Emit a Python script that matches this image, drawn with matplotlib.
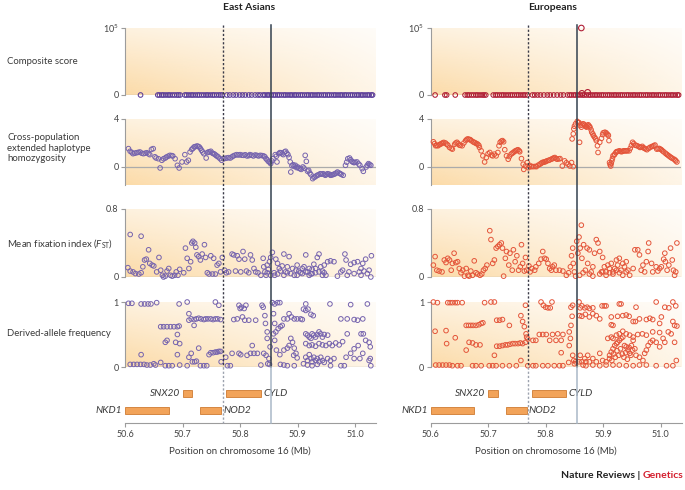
import matplotlib
matplotlib.use("Agg")
import matplotlib.pyplot as plt
import numpy as np
from matplotlib.lines import Line2D
from matplotlib.transforms import blended_transform_factory

plt.rcParams['font.family'] = ['Lato', 'DejaVu Sans']
plt.rcParams['mathtext.fontset'] = 'custom'
plt.rcParams['mathtext.rm'] = 'Lato'
plt.rcParams['mathtext.it'] = 'Lato:italic'

# ---------------- data ----------------
populations = ['East Asians', 'Europeans']
row_labels = ['Composite score',
              'Cross-population\nextended haplotype\nhomozygosity',
              r'Mean fixation index ($\mathit{F}_{\mathrm{ST}}$)',
              'Derived-allele frequency']
y_ticks = [[0, 100000], [0, 4], [0, 0.8], [0, 1]]
y_tick_labels = [['0', r'$10^5$'], ['0', '4'], ['0', '0.8'], ['0', '1']]
x_ticks = [50.6, 50.7, 50.8, 50.9, 51.0]
x_tick_labels = ['50.6', '50.7', '50.8', '50.9', '51.0']
x_label = 'Position on chromosome 16 (Mb)'
pos_dotted = 50.770
pos_solid = 50.854

genes = ['NKD1', 'SNX20', 'NOD2', 'CYLD']
gene_start = [50.600, 50.700, 50.731, 50.776]
gene_end = [50.676, 50.717, 50.767, 50.836]
gene_row = [0, 1, 0, 1]
gene_label_side = ['left', 'left', 'right', 'right']

# composite score (mostly zero)
ea_comp_x = [50.627, 50.657, 50.660, 50.664, 50.667, 50.671, 50.675, 50.678, 50.682, 50.686, 50.690,
             50.693, 50.696, 50.704, 50.707, 50.711, 50.715, 50.718, 50.722, 50.726, 50.729, 50.733,
             50.737, 50.741, 50.744, 50.748, 50.752, 50.755, 50.759, 50.763, 50.766, 50.769, 50.777,
             50.782, 50.788, 50.793, 50.799, 50.804, 50.809, 50.815, 50.820, 50.826, 50.831, 50.835,
             50.840, 50.843, 50.847, 50.850, 50.854, 50.858, 50.861, 50.865, 50.868, 50.872, 50.876,
             50.879, 50.883, 50.887, 50.890, 50.894, 50.897, 50.901, 50.905, 50.908, 50.912, 50.916,
             50.919, 50.923, 50.926, 50.930, 50.934, 50.937, 50.941, 50.945, 50.948, 50.952, 50.955,
             50.959, 50.963, 50.966, 50.970, 50.974, 50.977, 50.981, 50.984, 50.988, 50.992, 50.995,
             50.999, 51.003, 51.006, 51.010, 51.013, 51.017, 51.021, 51.024, 51.028, 51.030]
eu_comp_x = [50.608, 50.625, 50.628, 50.643, 50.660, 50.664, 50.667, 50.671, 50.675, 50.679, 50.682,
             50.686, 50.690, 50.693, 50.696, 50.709, 50.713, 50.716, 50.720, 50.724, 50.727, 50.731,
             50.735, 50.739, 50.742, 50.746, 50.750, 50.753, 50.757, 50.761, 50.764, 50.768, 50.777,
             50.781, 50.786, 50.791, 50.797, 50.803, 50.808, 50.814, 50.820, 50.826, 50.831, 50.838,
             50.842, 50.845, 50.849, 50.852, 50.856, 50.860, 50.864, 50.867, 50.871, 50.875, 50.878,
             50.882, 50.886, 50.889, 50.893, 50.897, 50.900, 50.904, 50.908, 50.911, 50.915, 50.919,
             50.922, 50.926, 50.930, 50.933, 50.937, 50.941, 50.944, 50.948, 50.952, 50.955, 50.959,
             50.963, 50.966, 50.970, 50.974, 50.977, 50.981, 50.985, 50.988, 50.992, 50.996, 50.999,
             51.003, 51.007, 51.010, 51.014, 51.018, 51.021, 51.025, 51.029, 51.031]
eu_comp_peaks = [(50.862, 100000), (50.863, 2500), (50.873, 4000)]

# XP-EHH
ea_xpehh = [(50.606, 1.53), (50.609, 1.31), (50.614, 1.11), (50.620, 1.19), (50.626, 1.25), (50.632, 1.11),
            (50.638, 1.19), (50.643, 1.03), (50.646, 1.47), (50.649, 1.53), (50.654, 0.75), (50.658, 0.69),
            (50.661, -0.08), (50.664, 0.56), (50.667, 0.69), (50.672, 0.83), (50.678, 0.97), (50.683, 0.92),
            (50.687, 0.69), (50.691, 0.14), (50.694, -0.08), (50.699, 0.42), (50.704, 1.03), (50.707, 0.42),
            (50.710, 0.56), (50.713, 1.25), (50.716, 1.47), (50.720, 1.67), (50.725, 1.75), (50.729, 1.67),
            (50.733, 1.39), (50.737, 1.11), (50.741, 0.75), (50.745, 1.25), (50.749, 1.31), (50.754, 1.11),
            (50.758, 0.97), (50.762, 0.83), (50.768, 0.56), (50.771, 0.69), (50.777, 0.75), (50.783, 0.75),
            (50.788, 0.92), (50.794, 1.03), (50.800, 1.03), (50.806, 0.97), (50.812, 0.92), (50.817, 1.03),
            (50.823, 0.92), (50.829, 0.97), (50.835, 0.97), (50.841, 0.92), (50.845, 0.69), (50.849, 0.47),
            (50.853, 0.28), (50.857, 0.69), (50.861, 1.03), (50.864, 0.42), (50.867, 1.11), (50.871, 1.19),
            (50.875, 1.03), (50.879, 1.31), (50.883, 1.03), (50.887, 0.42), (50.888, -0.42), (50.892, 0.19),
            (50.896, 0.14), (50.900, 0.0), (50.904, -0.14), (50.909, 0.0), (50.913, 0.97), (50.915, 0.47),
            (50.919, -0.28), (50.923, -0.64), (50.926, -0.97), (50.930, -0.83), (50.934, -0.69), (50.939, -0.56),
            (50.944, -0.56), (50.948, -0.69), (50.952, -0.56), (50.957, -0.69), (50.961, -0.64), (50.965, -0.56),
            (50.969, -0.42), (50.974, -0.56), (50.979, -0.69), (50.983, 0.14), (50.987, 0.69), (50.990, 0.75),
            (50.994, 0.47), (50.998, 0.36), (51.003, 0.42), (51.008, 0.14), (51.012, -0.14), (51.014, -0.36),
            (51.019, 0.0), (51.023, 0.28), (51.027, 0.14),
            (50.797, 1.00), (50.803, 0.98), (50.809, 1.02), (50.815, 0.95), (50.820, 0.98), (50.826, 1.00),
            (50.832, 0.92), (50.838, 0.95), (50.843, 0.85), (50.847, 0.60), (50.851, 0.40), (50.855, 0.50),
            (50.863, 0.90), (50.869, 1.20), (50.873, 1.10), (50.877, 1.25), (50.881, 1.15), (50.885, 0.80),
            (50.890, 0.10), (50.894, 0.05), (50.898, -0.05), (50.902, -0.10), (50.906, -0.20), (50.911, -0.10),
            (50.917, -0.35), (50.921, -0.50), (50.928, -0.85), (50.932, -0.75), (50.936, -0.65), (50.941, -0.60),
            (50.946, -0.62), (50.950, -0.62), (50.955, -0.60), (50.959, -0.66), (50.963, -0.60), (50.967, -0.50),
            (50.972, -0.50), (50.976, -0.62), (50.985, 0.40), (50.992, 0.60), (50.996, 0.40), (51.000, 0.40),
            (51.006, 0.25), (51.021, 0.15), (51.025, 0.20), (50.612, 1.20), (50.617, 1.15), (50.623, 1.22),
            (50.629, 1.15), (50.635, 1.15), (50.641, 1.10), (50.652, 0.85), (50.670, 0.75), (50.675, 0.90),
            (50.681, 0.95), (50.718, 1.55), (50.722, 1.70), (50.727, 1.72), (50.731, 1.55), (50.735, 1.25),
            (50.743, 1.20), (50.747, 1.25), (50.752, 1.15), (50.756, 1.05), (50.760, 0.90), (50.765, 0.70),
            (50.774, 0.72), (50.780, 0.78), (50.786, 0.85), (50.791, 0.98)]
eu_xpehh = [(50.605, 2.10), (50.609, 1.77), (50.613, 1.77), (50.617, 1.90), (50.621, 2.00), (50.626, 2.00),
            (50.630, 1.83), (50.633, 1.63), (50.638, 1.49), (50.642, 1.90), (50.646, 2.06), (50.650, 1.83),
            (50.655, 1.77), (50.661, 2.20), (50.665, 2.34), (50.669, 2.28), (50.674, 2.10), (50.678, 2.00),
            (50.682, 1.90), (50.685, 1.63), (50.688, 1.35), (50.691, 0.93), (50.694, 0.42), (50.697, 0.79),
            (50.703, 1.21), (50.706, 0.99), (50.708, 0.93), (50.711, 1.07), (50.714, 0.93), (50.717, 1.21),
            (50.719, 1.77), (50.721, 2.06), (50.725, 2.20), (50.727, 2.10), (50.729, 1.44), (50.732, 0.93),
            (50.735, 0.65), (50.737, 0.87), (50.740, 1.07), (50.744, 1.21), (50.748, 1.35), (50.752, 1.44),
            (50.755, 1.27), (50.758, 0.70), (50.761, 0.23), (50.762, -0.20), (50.765, 0.08), (50.768, 0.37),
            (50.770, -0.06), (50.772, 0.14), (50.775, 0.03), (50.779, 0.03), (50.784, 0.03), (50.790, 0.23),
            (50.794, 0.37), (50.798, 0.42), (50.802, 0.51), (50.807, 0.59), (50.812, 0.70), (50.816, 0.79),
            (50.820, 0.65), (50.825, 0.70), (50.829, 0.08), (50.833, 0.51), (50.839, 0.23), (50.842, 0.08),
            (50.845, 0.37), (50.848, 0.03), (50.846, 2.34), (50.848, 2.76), (50.849, 3.18), (50.852, 3.60),
            (50.855, 3.80), (50.858, 3.69), (50.860, 3.46), (50.859, 2.06), (50.862, 3.32), (50.865, 3.60),
            (50.868, 3.46), (50.871, 3.32), (50.874, 3.52), (50.877, 3.32), (50.880, 2.90), (50.883, 2.62),
            (50.885, 2.48), (50.888, 2.20), (50.890, 1.77), (50.891, 1.21), (50.894, 2.06), (50.897, 2.39),
            (50.900, 2.85), (50.903, 2.90), (50.906, 2.76), (50.909, 2.62), (50.910, 2.20), (50.911, 0.37),
            (50.913, 0.08), (50.915, 0.51), (50.917, 0.93), (50.920, 1.07), (50.923, 1.27), (50.928, 1.35),
            (50.932, 1.27), (50.936, 1.35), (50.940, 1.35), (50.945, 1.35), (50.947, 1.55), (50.951, 2.06),
            (50.955, 1.83), (50.959, 1.77), (50.964, 1.63), (50.968, 1.72), (50.972, 1.55), (50.976, 1.44),
            (50.981, 1.63), (50.986, 1.72), (50.990, 1.83), (50.993, 1.49), (50.997, 1.55), (51.001, 1.44),
            (51.005, 1.27), (51.010, 1.07), (51.014, 0.93), (51.018, 0.79), (51.023, 0.65), (51.026, 0.51),
            (51.028, 0.42),
            (50.607, 1.95), (50.611, 1.80), (50.615, 1.85), (50.619, 1.95), (50.623, 2.05), (50.628, 1.90),
            (50.636, 1.55), (50.644, 2.00), (50.648, 1.95), (50.652, 1.80), (50.658, 2.00), (50.663, 2.30),
            (50.667, 2.30), (50.671, 2.20), (50.676, 2.05), (50.680, 1.95), (50.684, 1.80), (50.700, 1.10),
            (50.723, 2.15), (50.742, 1.15), (50.746, 1.30), (50.750, 1.40), (50.754, 1.35), (50.776, 0.05),
            (50.782, 0.05), (50.787, 0.15), (50.792, 0.30), (50.796, 0.40), (50.800, 0.45), (50.805, 0.55),
            (50.810, 0.65), (50.814, 0.75), (50.818, 0.70), (50.823, 0.68), (50.836, 0.35), (50.850, 3.40),
            (50.857, 3.70), (50.863, 3.50), (50.867, 3.55), (50.870, 3.40), (50.873, 3.45), (50.876, 3.40),
            (50.879, 3.10), (50.882, 2.75), (50.887, 2.35), (50.899, 2.70), (50.905, 2.85), (50.908, 2.70),
            (50.912, 0.20), (50.914, 0.30), (50.916, 0.70), (50.919, 1.00), (50.922, 1.20), (50.925, 1.30),
            (50.930, 1.30), (50.934, 1.32), (50.938, 1.35), (50.942, 1.35), (50.949, 1.80), (50.953, 1.95),
            (50.957, 1.80), (50.962, 1.70), (50.966, 1.65), (50.970, 1.60), (50.974, 1.50), (50.979, 1.55),
            (50.984, 1.70), (50.988, 1.78), (50.995, 1.52), (50.999, 1.50), (51.003, 1.35), (51.008, 1.15),
            (51.012, 1.00), (51.016, 0.85), (51.020, 0.72), (51.025, 0.58)]

# mean FST
ea_fst = [(50.609, 0.50), (50.628, 0.48), (50.605, 0.11), (50.609, 0.07), (50.614, 0.06), (50.618, 0.04),
          (50.624, 0.035), (50.628, 0.05), (50.631, 0.12), (50.634, 0.20), (50.637, 0.21), (50.641, 0.32),
          (50.643, 0.16), (50.647, 0.14), (50.650, 0.13), (50.655, 0.06), (50.659, 0.23), (50.662, 0.08),
          (50.665, 0.02), (50.667, 0.00), (50.670, 0.01), (50.673, 0.07), (50.676, 0.10), (50.679, 0.02),
          (50.682, 0.01), (50.686, 0.02), (50.689, 0.06), (50.692, 0.02), (50.695, 0.09), (50.702, 0.05),
          (50.705, 0.34), (50.708, 0.22), (50.711, 0.10), (50.714, 0.18), (50.716, 0.40), (50.718, 0.42),
          (50.721, 0.40), (50.723, 0.35), (50.725, 0.26), (50.728, 0.24), (50.731, 0.20), (50.734, 0.27),
          (50.738, 0.38), (50.740, 0.23), (50.743, 0.05), (50.746, 0.035), (50.749, 0.25), (50.752, 0.035),
          (50.754, 0.22), (50.757, 0.035), (50.760, 0.14), (50.763, 0.16), (50.766, 0.06), (50.769, 0.23),
          (50.773, 0.08), (50.776, 0.05), (50.780, 0.06), (50.786, 0.27), (50.789, 0.26), (50.792, 0.07),
          (50.795, 0.25), (50.798, 0.21), (50.801, 0.06), (50.805, 0.30), (50.808, 0.21), (50.811, 0.07),
          (50.815, 0.05), (50.818, 0.26), (50.821, 0.20), (50.824, 0.10), (50.827, 0.06), (50.831, 0.05),
          (50.836, 0.02), (50.840, 0.22), (50.841, 0.12), (50.843, 0.06), (50.845, 0.02), (50.847, 0.14),
          (50.849, 0.09), (50.851, 0.18), (50.853, 0.23), (50.856, 0.29), (50.859, 0.05), (50.860, 0.02),
          (50.862, 0.21), (50.865, 0.16), (50.868, 0.10), (50.870, 0.07), (50.873, 0.13), (50.876, 0.27),
          (50.879, 0.06), (50.882, 0.12), (50.885, 0.24), (50.888, 0.04), (50.891, 0.10), (50.894, 0.02),
          (50.897, 0.08), (50.899, 0.14), (50.902, 0.07), (50.905, 0.05), (50.908, 0.10), (50.911, 0.12),
          (50.914, 0.26), (50.917, 0.06), (50.920, 0.10), (50.923, 0.035), (50.925, 0.09), (50.928, 0.15),
          (50.931, 0.05), (50.934, 0.23), (50.937, 0.27), (50.940, 0.12), (50.943, 0.07), (50.946, 0.14),
          (50.949, 0.02), (50.952, 0.18), (50.957, 0.19), (50.963, 0.18), (50.969, 0.01), (50.975, 0.06),
          (50.978, 0.08), (50.982, 0.27), (50.984, 0.20), (50.986, 0.02), (50.989, 0.06), (50.992, 0.15),
          (50.998, 0.17), (51.004, 0.18), (51.007, 0.06), (51.010, 0.10), (51.013, 0.16), (51.015, 0.07),
          (51.018, 0.21), (51.021, 0.04), (51.024, 0.08), (51.027, 0.00), (51.028, 0.25), (50.899, 0.02),
          (50.908, 0.04), (50.914, 0.06), (50.920, 0.02), (50.925, 0.04), (50.931, 0.10), (50.937, 0.06),
          (50.943, 0.02), (50.946, 0.05), (50.847, 0.05), (50.853, 0.02), (50.865, 0.035), (50.876, 0.02),
          (50.882, 0.05), (50.998, 0.04), (51.010, 0.02)]
eu_fst = [(50.605, 0.14), (50.608, 0.24), (50.611, 0.08), (50.615, 0.07), (50.620, 0.06), (50.624, 0.20),
          (50.627, 0.17), (50.630, 0.22), (50.633, 0.20), (50.636, 0.08), (50.638, 0.16), (50.641, 0.28),
          (50.644, 0.17), (50.647, 0.18), (50.650, 0.10), (50.653, 0.05), (50.656, 0.08), (50.659, 0.01),
          (50.662, 0.10), (50.665, 0.02), (50.667, 0.01), (50.670, 0.07), (50.673, 0.02), (50.676, 0.19),
          (50.679, 0.05), (50.682, 0.035), (50.686, 0.02), (50.689, 0.035), (50.692, 0.08), (50.695, 0.10),
          (50.698, 0.14), (50.703, 0.545), (50.705, 0.44), (50.708, 0.16), (50.711, 0.20), (50.714, 0.34),
          (50.717, 0.36), (50.720, 0.38), (50.723, 0.40), (50.725, 0.34), (50.727, 0.01), (50.730, 0.22),
          (50.732, 0.30), (50.736, 0.14), (50.738, 0.28), (50.742, 0.08), (50.744, 0.32), (50.747, 0.18),
          (50.750, 0.25), (50.753, 0.08), (50.756, 0.12), (50.758, 0.38), (50.760, 0.16), (50.763, 0.07),
          (50.765, 0.23), (50.767, 0.08), (50.771, 0.13), (50.773, 0.06), (50.776, 0.10), (50.781, 0.08),
          (50.783, 0.12), (50.788, 0.16), (50.792, 0.21), (50.795, 0.30), (50.798, 0.22), (50.801, 0.21),
          (50.804, 0.16), (50.807, 0.10), (50.810, 0.08), (50.812, 0.12), (50.815, 0.14), (50.818, 0.08),
          (50.824, 0.08), (50.830, 0.07), (50.836, 0.02), (50.840, 0.05), (50.843, 0.12), (50.845, 0.25),
          (50.847, 0.34), (50.848, 0.16), (50.850, 0.06), (50.852, 0.01), (50.854, 0.42), (50.856, 0.28),
          (50.858, 0.47), (50.860, 0.34), (50.862, 0.61), (50.863, 0.22), (50.866, 0.38), (50.869, 0.08),
          (50.872, 0.34), (50.873, 0.16), (50.876, 0.32), (50.879, 0.06), (50.882, 0.12), (50.885, 0.28),
          (50.888, 0.44), (50.891, 0.40), (50.894, 0.30), (50.897, 0.06), (50.899, 0.23), (50.902, 0.12),
          (50.905, 0.06), (50.908, 0.14), (50.911, 0.10), (50.914, 0.16), (50.917, 0.06), (50.920, 0.10),
          (50.923, 0.20), (50.925, 0.14), (50.928, 0.22), (50.931, 0.08), (50.934, 0.16), (50.937, 0.12),
          (50.940, 0.18), (50.943, 0.08), (50.946, 0.02), (50.952, 0.10), (50.955, 0.32), (50.960, 0.32),
          (50.963, 0.26), (50.966, 0.08), (50.969, 0.14), (50.972, 0.06), (50.975, 0.18), (50.978, 0.30),
          (50.979, 0.40), (50.984, 0.16), (50.986, 0.06), (50.992, 0.12), (50.995, 0.07), (50.998, 0.10),
          (51.001, 0.12), (51.005, 0.21), (51.007, 0.28), (51.008, 0.18), (51.011, 0.08), (51.014, 0.14),
          (51.017, 0.34), (51.020, 0.20), (51.022, 0.08), (51.024, 0.02), (51.026, 0.06), (51.028, 0.40),
          (50.894, 0.035), (50.899, 0.06), (50.905, 0.02), (50.911, 0.05), (50.917, 0.035), (50.923, 0.08),
          (50.928, 0.05), (50.934, 0.02), (50.940, 0.06), (50.859, 0.02), (50.865, 0.05), (50.876, 0.035),
          (50.882, 0.01)]

# derived-allele frequency
ea_daf = [(50.606, 0.98), (50.612, 0.98), (50.628, 0.97), (50.634, 0.97), (50.640, 0.97), (50.645, 0.97),
          (50.655, 0.99), (50.694, 0.97), (50.708, 1.00), (50.757, 1.00), (50.763, 0.95),
          (50.662, 0.62), (50.667, 0.62), (50.673, 0.62), (50.679, 0.62), (50.685, 0.62), (50.691, 0.62),
          (50.694, 0.63), (50.670, 0.38), (50.673, 0.41), (50.688, 0.38), (50.691, 0.50), (50.695, 0.36),
          (50.609, 0.04), (50.615, 0.04), (50.621, 0.04), (50.627, 0.04), (50.633, 0.04), (50.638, 0.03),
          (50.644, 0.03), (50.650, 0.05), (50.653, 0.03), (50.628, 0.19), (50.662, 0.07), (50.670, 0.02),
          (50.676, 0.02), (50.682, 0.02), (50.691, 0.19), (50.695, 0.03), (50.708, 0.02), (50.711, 0.15),
          (50.715, 0.21), (50.717, 0.08), (50.721, 0.08), (50.724, 0.09), (50.728, 0.29), (50.731, 0.02),
          (50.737, 0.02), (50.742, 0.02), (50.746, 0.19), (50.749, 0.22), (50.753, 0.22), (50.757, 0.23),
          (50.760, 0.23), (50.763, 0.24), (50.766, 0.24), (50.767, 0.08),
          (50.711, 0.72), (50.715, 0.74), (50.720, 0.73), (50.724, 0.74), (50.728, 0.75), (50.732, 0.74),
          (50.737, 0.73), (50.740, 0.74), (50.744, 0.74), (50.749, 0.74), (50.753, 0.73), (50.757, 0.74),
          (50.761, 0.74), (50.766, 0.73), (50.720, 0.64), (50.711, 0.82),
          (50.775, 0.15), (50.778, 0.02), (50.783, 0.02), (50.786, 0.21), (50.789, 0.73), (50.795, 0.74),
          (50.798, 0.95), (50.800, 0.90), (50.802, 0.92), (50.807, 0.90), (50.810, 0.95), (50.798, 0.21),
          (50.801, 0.19), (50.804, 0.77), (50.808, 0.72), (50.812, 0.18), (50.815, 0.72), (50.818, 0.21),
          (50.821, 0.33), (50.824, 0.21), (50.827, 0.72), (50.830, 0.21), (50.836, 0.03), (50.838, 0.95),
          (50.840, 0.92), (50.843, 0.79), (50.844, 0.67), (50.841, 0.21), (50.845, 0.18), (50.847, 0.54),
          (50.847, 0.44), (50.848, 0.05), (50.850, 0.13), (50.852, 0.31), (50.851, 0.04),
          (50.856, 0.99), (50.860, 0.97), (50.865, 0.99), (50.869, 0.99), (50.858, 0.82), (50.860, 0.67),
          (50.858, 0.51), (50.862, 0.54), (50.866, 0.59), (50.870, 0.62), (50.873, 0.64), (50.860, 0.41),
          (50.863, 0.26), (50.869, 0.19), (50.876, 0.26), (50.882, 0.29), (50.885, 0.33), (50.888, 0.44),
          (50.891, 0.38), (50.894, 0.29), (50.893, 0.18), (50.897, 0.21), (50.899, 0.14), (50.876, 0.74),
          (50.882, 0.74), (50.885, 0.82), (50.889, 0.77), (50.894, 0.74), (50.899, 0.74), (50.905, 0.74),
          (50.908, 0.73), (50.914, 0.97), (50.910, 0.89), (50.914, 0.87), (50.918, 0.89), (50.923, 0.81),
          (50.927, 0.79), (50.914, 0.51), (50.917, 0.49), (50.920, 0.46), (50.923, 0.44), (50.925, 0.51),
          (50.928, 0.49), (50.931, 0.46), (50.934, 0.50), (50.937, 0.54), (50.940, 0.51), (50.943, 0.46),
          (50.946, 0.50), (50.952, 0.49), (50.914, 0.36), (50.920, 0.33), (50.925, 0.34), (50.931, 0.32),
          (50.937, 0.36), (50.943, 0.34), (50.949, 0.33), (50.955, 0.36), (50.960, 0.33), (50.966, 0.37),
          (50.972, 0.34), (50.978, 0.39), (50.914, 0.15), (50.917, 0.10), (50.920, 0.19), (50.923, 0.13),
          (50.925, 0.08), (50.928, 0.15), (50.931, 0.10), (50.934, 0.13), (50.937, 0.08), (50.940, 0.15),
          (50.943, 0.10), (50.946, 0.07), (50.952, 0.13), (50.957, 0.10), (50.963, 0.13), (50.910, 0.05),
          (50.917, 0.03), (50.925, 0.02), (50.934, 0.04), (50.870, 0.04), (50.876, 0.03), (50.882, 0.02),
          (50.894, 0.02), (50.957, 0.02), (50.975, 0.02), (50.981, 0.02), (50.986, 0.74), (50.992, 0.96),
          (50.998, 0.73), (51.004, 0.72), (51.013, 0.74), (51.021, 0.97), (50.956, 0.97), (50.975, 0.74),
          (50.986, 0.51), (50.998, 0.28), (51.005, 0.33), (51.010, 0.51), (51.014, 0.51), (51.018, 0.41),
          (51.024, 0.38), (51.026, 0.31), (51.026, 0.13), (50.992, 0.21), (50.998, 0.13), (51.008, 0.13),
          (51.013, 0.21), (51.027, 0.02), (51.024, 0.10), (50.984, 0.15)]
eu_daf = [(50.605, 1.00), (50.612, 0.99), (50.630, 0.99), (50.634, 0.99), (50.638, 0.99), (50.643, 0.99),
          (50.647, 0.99), (50.655, 0.99), (50.694, 0.99), (50.705, 1.00), (50.711, 1.00),
          (50.608, 0.55), (50.627, 0.56), (50.643, 0.45), (50.628, 0.36),
          (50.662, 0.64), (50.666, 0.64), (50.670, 0.64), (50.674, 0.64), (50.679, 0.64), (50.684, 0.65),
          (50.688, 0.67), (50.691, 0.68), (50.667, 0.38), (50.673, 0.37), (50.679, 0.34), (50.686, 0.34),
          (50.662, 0.26), (50.711, 0.18), (50.715, 0.72), (50.720, 0.72), (50.725, 0.73), (50.737, 0.64),
          (50.715, 0.32), (50.720, 0.32), (50.725, 0.33), (50.730, 0.34), (50.734, 0.34), (50.738, 0.35),
          (50.743, 0.36), (50.747, 0.36), (50.752, 0.36), (50.756, 0.37), (50.760, 0.36), (50.765, 0.38),
          (50.757, 0.79), (50.760, 0.70), (50.763, 0.62), (50.766, 0.51), (50.767, 0.46), (50.765, 0.95),
          (50.757, 0.10),
          (50.609, 0.03), (50.615, 0.03), (50.621, 0.03), (50.627, 0.03), (50.633, 0.03), (50.638, 0.02),
          (50.647, 0.02), (50.653, 0.02), (50.673, 0.02), (50.679, 0.02), (50.688, 0.02), (50.702, 0.02),
          (50.708, 0.02), (50.714, 0.02), (50.725, 0.02), (50.737, 0.02), (50.749, 0.02), (50.769, 0.02),
          (50.778, 0.02), (50.783, 0.02), (50.795, 0.02), (50.804, 0.02), (50.815, 0.02), (50.824, 0.02),
          (50.769, 0.43), (50.778, 0.41), (50.783, 0.41), (50.789, 0.50), (50.795, 0.50), (50.801, 0.50),
          (50.807, 0.41), (50.812, 0.50), (50.818, 0.41), (50.821, 0.51), (50.827, 0.41), (50.830, 0.50),
          (50.796, 0.95), (50.800, 0.92), (50.804, 0.91), (50.808, 0.91), (50.811, 1.00), (50.792, 1.00),
          (50.827, 0.22), (50.830, 0.02), (50.840, 0.07), (50.841, 0.33), (50.843, 0.44), (50.841, 0.54),
          (50.844, 0.64), (50.844, 0.92), (50.847, 0.95), (50.846, 0.78), (50.847, 0.18), (50.849, 0.10),
          (50.850, 0.05), (50.852, 0.08),
          (50.858, 1.00), (50.860, 0.91), (50.863, 0.94), (50.868, 0.91), (50.872, 0.92), (50.876, 0.90),
          (50.882, 0.91), (50.859, 0.79), (50.863, 0.78), (50.869, 0.81), (50.876, 0.77), (50.882, 0.82),
          (50.888, 0.79), (50.894, 0.74), (50.898, 0.94), (50.902, 0.94), (50.905, 0.94), (50.914, 0.65),
          (50.917, 0.64), (50.914, 0.77), (50.925, 0.78), (50.928, 0.97), (50.931, 0.97), (50.934, 0.79),
          (50.940, 0.80), (50.945, 0.78), (50.952, 0.70), (50.956, 0.70), (50.957, 0.92), (50.963, 0.74),
          (50.975, 0.73), (50.981, 0.75), (50.986, 0.73), (50.992, 1.00), (50.998, 0.67), (51.001, 0.77),
          (51.007, 0.92), (51.014, 0.91), (51.021, 0.70), (51.024, 0.64), (51.026, 0.94), (51.028, 0.63),
          (51.021, 1.00),
          (50.858, 0.08), (50.860, 0.18), (50.863, 0.08), (50.868, 0.13), (50.870, 0.08), (50.873, 0.18),
          (50.876, 0.08), (50.882, 0.13), (50.888, 0.08), (50.894, 0.21), (50.899, 0.10), (50.905, 0.08),
          (50.911, 0.13), (50.914, 0.23), (50.917, 0.28), (50.920, 0.33), (50.923, 0.36), (50.925, 0.38),
          (50.928, 0.41), (50.931, 0.44), (50.934, 0.46), (50.937, 0.33), (50.940, 0.31), (50.943, 0.26),
          (50.946, 0.21), (50.949, 0.33), (50.952, 0.41), (50.955, 0.28), (50.957, 0.18), (50.963, 0.15),
          (50.969, 0.10), (50.972, 0.21), (50.975, 0.26), (50.978, 0.33), (50.982, 0.38), (50.986, 0.41),
          (50.992, 0.38), (50.998, 0.31), (51.004, 0.44), (51.007, 0.38), (51.013, 0.54), (51.018, 0.51),
          (51.024, 0.38), (51.027, 0.10),
          (50.908, 0.44), (50.914, 0.46), (50.917, 0.44), (50.923, 0.49), (50.928, 0.51), (50.934, 0.55),
          (50.940, 0.51), (50.946, 0.49), (50.952, 0.46), (50.960, 0.50), (50.968, 0.51), (50.975, 0.49),
          (50.986, 0.54), (50.998, 0.53),
          (50.865, 0.03), (50.870, 0.02), (50.882, 0.03), (50.894, 0.02), (50.905, 0.03), (50.917, 0.03),
          (50.928, 0.03), (50.940, 0.02), (50.952, 0.02), (50.963, 0.03), (50.975, 0.03), (50.992, 0.02),
          (51.010, 0.02), (51.021, 0.02),
          (50.911, 0.18), (50.915, 0.10), (50.918, 0.20), (50.921, 0.15), (50.924, 0.25), (50.927, 0.18),
          (50.930, 0.28), (50.933, 0.20), (50.936, 0.15), (50.939, 0.22), (50.942, 0.12), (50.945, 0.30),
          (50.948, 0.18), (50.951, 0.26)]

# ---------------- layout ----------------
W, H = 685, 490
fig = plt.figure(figsize=(W / 100, H / 100), dpi=100)
XMIN, XMAX = 50.6, 51.036
col_x = [(125, 376), (430.5, 681.5)]
panel_y = [(28, 95), (119, 185), (209, 277), (302, 367)]
panel_ylim = [(0, 100000), (-1.5, 4), (0, 0.8), (0, 1)]
gene_y = (383, 423)
gene_ylim = (-0.765, 1.6)

colors_main = ['#7563ae', '#e4553a']
colors_comp = ['#5b3c98', '#b01f36']
SPINE = '#9c9c9c'
TXT = '#3a3a3a'
MS = 11


def rect(x0, x1, yt, yb):
    return [x0 / W, 1 - yb / H, (x1 - x0) / W, (yb - yt) / H]


def shade(ax, y0, y1):
    nx, ny = 200, 80
    xn = np.linspace(0, 1, nx)[None, :]
    yn = np.linspace(0, 1, ny)[:, None]
    a = 0.58 * (1 - 0.78 * xn) * (1 - 0.6 * yn) + 0.05 * (1 - yn)
    img = np.zeros((ny, nx, 4))
    img[..., 0] = 250 / 255
    img[..., 1] = 198 / 255
    img[..., 2] = 118 / 255
    img[..., 3] = np.clip(a, 0, 1)
    ax.imshow(img, extent=[XMIN, XMAX, y0, y1], origin='lower', aspect='auto',
              zorder=0, interpolation='bilinear')


datasets = [
    [None, ea_xpehh, ea_fst, ea_daf],
    [None, eu_xpehh, eu_fst, eu_daf],
]
comp_x = [ea_comp_x, eu_comp_x]

for c in range(2):
    x0, x1 = col_x[c]
    for p in range(4):
        yt, yb = panel_y[p]
        ax = fig.add_axes(rect(x0, x1, yt, yb))
        ax.patch.set_visible(False)
        lo, hi = panel_ylim[p]
        shade(ax, lo, hi)
        for s in ['top', 'right', 'bottom']:
            ax.spines[s].set_visible(False)
        ax.spines['left'].set_color(SPINE)
        ax.spines['left'].set_linewidth(0.8)
        ax.axhline(0, color='#ababab', lw=0.9, zorder=1)
        if p == 0:
            xs = comp_x[c]
            ax.scatter(xs, [0] * len(xs), s=MS, facecolors='none', edgecolors=colors_comp[c],
                       linewidths=0.75, zorder=3, clip_on=False)
            if c == 1:
                ax.scatter([q[0] for q in eu_comp_peaks], [q[1] for q in eu_comp_peaks], s=16,
                           facecolors='none', edgecolors=colors_comp[c], linewidths=0.8,
                           zorder=3, clip_on=False)
        else:
            d = datasets[c][p]
            ax.scatter([q[0] for q in d], [q[1] for q in d], s=MS, facecolors='none',
                       edgecolors=colors_main[c], linewidths=0.7, zorder=3, clip_on=False)
        ax.set_xlim(XMIN, XMAX)
        ax.set_ylim(lo, hi)
        ax.set_xticks([])
        ax.set_yticks(y_ticks[p])
        ax.set_yticklabels(y_tick_labels[p])
        ax.tick_params(axis='y', length=3, width=0.8, color=SPINE, labelsize=6.5,
                       labelcolor='#444444', pad=1.5)

    # gene track
    axg = fig.add_axes(rect(x0, x1, gene_y[0], gene_y[1]))
    axg.patch.set_visible(False)
    for s in ['top', 'right', 'left']:
        axg.spines[s].set_visible(False)
    axg.spines['bottom'].set_color(SPINE)
    axg.spines['bottom'].set_linewidth(0.8)
    axg.barh(gene_row, [e - s for s, e in zip(gene_start, gene_end)], left=gene_start,
             height=0.42, color='#f2a359', edgecolor='#cf7b30', linewidth=0.6, zorder=3)
    for g, s, e, r, side in zip(genes, gene_start, gene_end, gene_row, gene_label_side):
        if side == 'left':
            axg.text(s - 0.005, r, g, ha='right', va='center', fontsize=7.3, style='italic',
                     color=TXT, clip_on=False)
        else:
            axg.text(e + 0.004, r, g, ha='left', va='center', fontsize=7.3, style='italic',
                     color=TXT, clip_on=False)
    axg.set_xlim(XMIN, XMAX)
    axg.set_ylim(*gene_ylim)
    axg.set_yticks([])
    axg.set_xticks(x_ticks)
    axg.set_xticklabels(x_tick_labels)
    axg.tick_params(axis='x', length=3, width=0.8, color=SPINE, labelsize=6.5,
                    labelcolor='#444444', pad=2)
    axg.text(50.8, -0.765 - 28 / 17, x_label, ha='center', va='center', fontsize=7,
             color=TXT, clip_on=False)

    # vertical marker lines spanning all panels
    tr = blended_transform_factory(axg.transData, fig.transFigure)
    fig.add_artist(Line2D([pos_dotted] * 2, [1 - 25 / H, 1 - 367 / H], transform=tr,
                          color='#3b3b48', lw=1.0, ls=(0, (1.6, 1.4)), zorder=5))
    fig.add_artist(Line2D([pos_dotted] * 2, [1 - 367 / H, 1 - 423 / H], transform=tr,
                          color='#9ca2ae', lw=1.0, ls=(0, (1.6, 1.4)), zorder=5))
    fig.add_artist(Line2D([pos_solid] * 2, [1 - 25 / H, 1 - 367 / H], transform=tr,
                          color='#34414f', lw=1.1, zorder=5))
    fig.add_artist(Line2D([pos_solid] * 2, [1 - 367 / H, 1 - 423 / H], transform=tr,
                          color='#a9b8c8', lw=1.1, zorder=5))

# titles
fig.text(249 / W, 1 - 7 / H, populations[0], ha='center', va='center', fontsize=7.5,
         weight='bold', color='#222222')
fig.text(553 / W, 1 - 7 / H, populations[1], ha='center', va='center', fontsize=7.5,
         weight='bold', color='#222222')

# row labels
row_label_y = [62, 148, 243, 333]
for lab, yy in zip(row_labels, row_label_y):
    fig.text(7 / W, 1 - yy / H, lab, ha='left', va='center', fontsize=6.9, color=TXT,
             linespacing=1.2)

# footer
fig.text(640 / W, 1 - 475 / H, 'Nature Reviews |', ha='right', va='center', fontsize=7.5,
         weight='bold', color='#222222')
fig.text(643 / W, 1 - 475 / H, 'Genetics', ha='left', va='center', fontsize=7.5,
         weight='bold', color='#d4202f')

fig.savefig('out.png', dpi=100)
